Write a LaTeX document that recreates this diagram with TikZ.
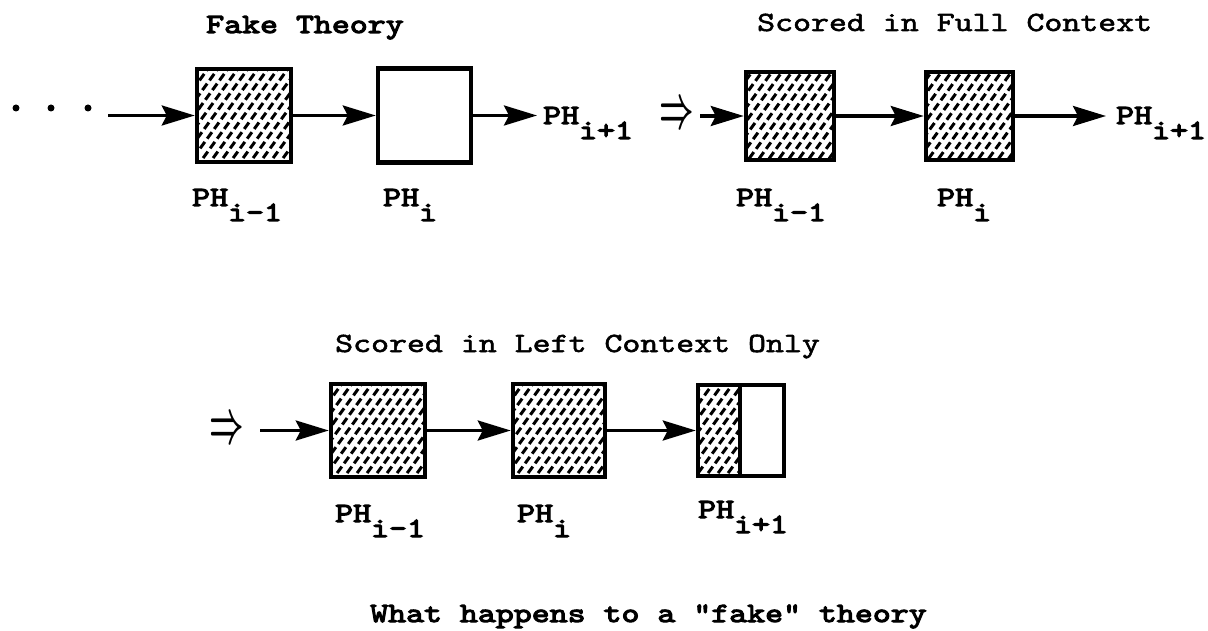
\documentclass[tikz,border=0pt]{standalone}
\usepackage{fontspec}
\newfontfamily\cour[Extension=.otf, FakeStretch=1.23, FakeBold=2]{lmmono10-regular}
\newfontfamily\courb[Extension=.otf, FakeStretch=1.23, FakeBold=4]{lmmono10-regular}
\usetikzlibrary{arrows.meta}
\tikzset{
  box/.style={draw, line width=4.5pt, inner sep=0pt, fill=white},
  hatched/.style={box, path picture={
     \foreach \k in {-120,-110,...,120}{
       \draw[line width=3pt, dash pattern=on 8pt off 4pt]
         ([shift={(\k pt-45pt,-62pt)}]path picture bounding box.center) --
         ([shift={(\k pt+45pt,62pt)}]path picture bounding box.center);
     }}},
  conn/.style={line width=3.2pt, -{Stealth[length=33pt,width=20pt,inset=5pt]}},
  title/.style={font=\cour\fontsize{27.8}{30}\selectfont, anchor=base west, inner sep=0pt},
  btitle/.style={title, font=\courb\fontsize{27.8}{30}\selectfont},
  lab/.style={font=\courb\fontsize{27.8}{30}\selectfont, anchor=base west, inner sep=0pt},
  dot/.style={circle, fill, inner sep=0pt, minimum size=7pt},
  dbl/.style={inner sep=0pt}
}
\newcommand{\dblarrow}{\scalebox{3}[6]{\boldmath$\Rightarrow$}}
\begin{document}
\begin{tikzpicture}[x=1pt,y=-1pt]
\useasboundingbox (0,0) rectangle (1208,631);
% titles
\node[btitle] (t1) at (206,33) {Fake Theory};
\node[title] (t2) at (757,31) {Scored in Full Context};
\node[title] (t3) at (335,352) {Scored in Left Context Only};
\node[btitle] (cap) at (370,622) {What happens to a "fake" theory};
% top left: fake theory
\node[dot] (d1) at (16,108) {};
\node[dot] (d2) at (51,108) {};
\node[dot] (d3) at (88,108) {};
\coordinate (s1) at (108,115.5);
\node[hatched, minimum width=94pt, minimum height=93pt] (b1) at (244,115.5) {};
\node[box, minimum width=93pt, minimum height=94pt] (b2) at (424.5,115.5) {};
\coordinate (e1) at (537,115.5);
\draw[conn] (s1) -- (b1.west);
\draw[conn] (b1.east) -- (b2.west);
\draw[conn] (b2.east) -- (e1);
\node[lab] (l1) at (192,206) {PH\raisebox{-15pt}{i-1}};
\node[lab] (l2) at (383,206) {PH\raisebox{-15pt}{i}};
\node[lab] (l3) at (543,124) {PH\raisebox{-15pt}{i+1}};
% top right: full context
\node[dbl] (r1) at (677,116) {\dblarrow};
\coordinate (s2) at (700,116);
\node[hatched, minimum width=88pt, minimum height=88pt] (b3) at (790,116) {};
\node[hatched, minimum width=87pt, minimum height=88pt] (b4) at (969.5,116) {};
\coordinate (e2) at (1106,116);
\draw[conn] (s2) -- (b3.west);
\draw[conn] (b3.east) -- (b4.west);
\draw[conn] (b4.east) -- (e2);
\node[lab] (l4) at (736,206) {PH\raisebox{-15pt}{i-1}};
\node[lab] (l5) at (937,206) {PH\raisebox{-15pt}{i}};
\node[lab] (l6) at (1116,124) {PH\raisebox{-15pt}{i+1}};
% bottom: left context only
\node[dbl] (r2) at (227,431) {\dblarrow};
\coordinate (s3) at (260,430.5);
\node[hatched, minimum width=94pt, minimum height=93pt] (b5) at (378,430.5) {};
\node[hatched, minimum width=92pt, minimum height=93pt] (b6) at (559,430.5) {};
\node[hatched, minimum width=42pt, minimum height=91pt] (b7l) at (719,430.5) {};
\node[box, minimum width=44pt, minimum height=91pt] (b7r) at (762,430.5) {};
\draw[conn] (s3) -- (b5.west);
\draw[conn] (b5.east) -- (b6.west);
\draw[conn] (b6.east) -- (b7l.west);
\node[lab] (l7) at (335,522) {PH\raisebox{-15pt}{i-1}};
\node[lab] (l8) at (517,522) {PH\raisebox{-15pt}{i}};
\node[lab] (l9) at (698,518) {PH\raisebox{-15pt}{i+1}};
\end{tikzpicture}
\end{document}
